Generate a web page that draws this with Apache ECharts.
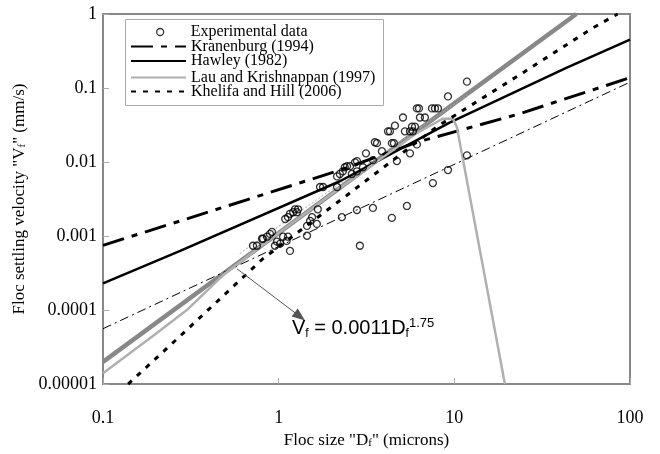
<!DOCTYPE html>
<html>
<head>
<meta charset="utf-8">
<script src="https://cdn.jsdelivr.net/npm/echarts@6/dist/echarts.min.js"></script>
<style>
  html, body { margin: 0; padding: 0; background: #fff; }
  #chart { width: 660px; height: 454px; }
</style>
</head>
<body>
<div id="chart"></div>
<script>
// tick labels
const xTicks = [0.1, 1, 10, 100];
const xTickLabels = ['0.1', '1', '10', '100'];
const yTicks = [0.00001, 0.0001, 0.001, 0.01, 0.1, 1];
const yTickLabels = ['0.00001', '0.0001', '0.001', '0.01', '0.1', '1'];

// measured floc size (microns) / settling velocity (mm/s)
const experimental = [
  [11.8, 0.122], [9.2, 0.077], [6.12, 0.053], [6.29, 0.053], [7.46, 0.053], [7.76, 0.053],
  [8.07, 0.053], [5.10, 0.040], [6.37, 0.040], [6.80, 0.040], [4.59, 0.031], [5.74, 0.030],
  [5.97, 0.030], [4.19, 0.026], [4.30, 0.026], [5.23, 0.026], [5.59, 0.026], [5.81, 0.026],
  [3.53, 0.0185], [3.63, 0.018], [4.41, 0.018], [4.53, 0.018], [6.12, 0.0173], [3.14, 0.0131],
  [3.87, 0.014], [5.59, 0.0131], [3.44, 0.0106], [2.79, 0.0103], [4.71, 0.0103], [3.02, 0.0085],
  [2.45, 0.0088], [2.55, 0.0088], [2.38, 0.0085], [2.72, 0.0099], [2.32, 0.0075], [2.23, 0.0069],
  [2.15, 0.0064], [2.61, 0.0069], [2.79, 0.0075], [1.72, 0.0046], [1.79, 0.0046], [2.15, 0.0046],
  [1.24, 0.0023], [1.29, 0.0023], [1.21, 0.0021], [1.27, 0.0021], [1.16, 0.0020], [1.09, 0.0017],
  [1.13, 0.0018], [1.51, 0.0016], [1.55, 0.0018], [1.67, 0.0023], [1.45, 0.00137], [1.65, 0.00146],
  [2.29, 0.0018], [2.79, 0.00225], [3.44, 0.0024], [5.37, 0.00255], [4.41, 0.00176], [7.55, 0.0052],
  [9.2, 0.0078], [11.8, 0.0123], [1.45, 0.00101], [0.916, 0.00114], [0.892, 0.00107], [0.858, 0.00098],
  [0.814, 0.00092], [0.804, 0.00092], [0.714, 0.00074], [0.752, 0.00074], [1.06, 0.00098], [1.13, 0.00098],
  [1.11, 0.00086], [1.02, 0.00079], [0.953, 0.00074], [0.978, 0.00084], [1.16, 0.00063], [2.90, 0.00074]
];

// model curves
const kranenburg = [[0.1, 0.00075], [0.275, 0.0016], [2.32, 0.008], [6.1, 0.0185], [23.6, 0.045], [100, 0.138]];
const hawley = [[0.1, 0.00023], [0.275, 0.00063], [2.23, 0.0055], [9.4, 0.034], [43.7, 0.188], [100, 0.45]];
const lau = [[0.1, 0.000014], [0.2, 0.000048], [0.3, 0.0001], [0.5, 0.00032], [1, 0.0011], [2, 0.0037],
  [4, 0.012], [6, 0.024], [8, 0.035], [8.6, 0.0385], [9.8, 0.0388], [10.35, 0.0294], [19.4, 0.00001]];
const khelifa = [[0.139, 0.00001], [0.3, 0.000054], [0.81, 0.00049], [2.5, 0.0037], [7.95, 0.03],
  [25, 0.165], [61.5, 0.65], [85, 1]];
const fitLine = [[0.1, 0.00002], [1, 0.0011], [10, 0.062], [49.5, 1]];
const thinDashDot = [[0.1, 0.000056], [100, 0.12]];
const thinDotted = [[0.6, 0.00058], [11.9, 0.081]];

// arrow from the fit line to its equation
const arrowFrom = [0.58, 0.00036];
const arrowTo = [1.32, 0.000082];

const legendNames = ['Experimental data', 'Kranenburg (1994)', 'Hawley (1982)',
  'Lau and Krishnappan (1997)', 'Khelifa and Hill (2006)'];
const legendTops = [24, 38.5, 53, 69.5, 83.5];

const serif = 'Liberation Serif';

function tickText(ticks, labels) {
  return function (v) {
    for (let i = 0; i < ticks.length; i++) {
      if (Math.abs(Math.log10(v) - Math.log10(ticks[i])) < 1e-6) return labels[i];
    }
    return '';
  };
}

// one legend per row so the rows sit tight like the original box
const legends = legendNames.map(function (name, i) {
  const isScatter = i === 0;
  return {
    data: [name], orient: 'vertical', padding: 0,
    left: isScatter ? 156 : 130, top: legendTops[i],
    itemWidth: isScatter ? 7 : 55, itemHeight: isScatter ? 7 : 14,
    itemStyle: isScatter
      ? { color: 'transparent', borderColor: '#000', borderWidth: 1.3 }
      : { color: 'transparent', borderColor: 'transparent', borderWidth: 0 },
    textStyle: { fontFamily: serif, fontSize: 16, color: '#000', padding: isScatter ? [0, 0, 0, 22] : 0 }
  };
});

const chart = echarts.init(document.getElementById('chart'));

const option = {
  animation: false,
  backgroundColor: '#fff',
  grid: {
    left: 103, top: 14, width: 527, height: 372,
    show: true, borderColor: '#888', borderWidth: 2, backgroundColor: 'transparent'
  },
  xAxis: {
    type: 'log', logBase: 10, min: 0.1, max: 100,
    name: 'Floc size "D{sub|f}" (microns)',
    nameLocation: 'middle', nameGap: 46,
    nameTextStyle: {
      fontFamily: serif, fontSize: 17, color: '#000',
      rich: { sub: { fontFamily: serif, fontSize: 11, lineHeight: 8, verticalAlign: 'bottom', color: '#000' } }
    },
    axisLine: { lineStyle: { color: '#888', width: 2 } },
    axisTick: { inside: true, length: 6, lineStyle: { color: '#aaa', width: 1 } },
    minorTick: { show: false },
    splitLine: { show: false },
    axisLabel: { fontFamily: serif, fontSize: 18, color: '#000', margin: 25, formatter: tickText(xTicks, xTickLabels) }
  },
  yAxis: {
    type: 'log', logBase: 10, min: 0.00001, max: 1,
    name: 'Floc settling velocity "V{sub|f}" (mm/s)',
    nameLocation: 'middle', nameGap: 72, nameRotate: 90,
    nameTextStyle: {
      fontFamily: serif, fontSize: 17, color: '#000',
      rich: { sub: { fontFamily: serif, fontSize: 11, lineHeight: 8, verticalAlign: 'bottom', color: '#000' } }
    },
    axisLine: { show: true, lineStyle: { color: '#888', width: 2 } },
    axisTick: { show: true, inside: true, length: 6, lineStyle: { color: '#aaa', width: 1 } },
    splitLine: { show: false },
    axisLabel: { fontFamily: serif, fontSize: 18, color: '#000', margin: 6, formatter: tickText(yTicks, yTickLabels) }
  },
  legend: legends,
  graphic: [
    {
      type: 'rect', left: 125, top: 19, z: 100,
      shape: { width: 258, height: 86 },
      style: { fill: 'transparent', stroke: '#aaa', lineWidth: 1 }
    },
    {
      type: 'text', left: 292, top: 317, z: 100,
      style: {
        text: '{n|V}{sub|f}{n| = 0.0011D}{sub|f}{sup|1.75}',
        rich: {
          n: { fontFamily: 'Liberation Sans', fontSize: 20, color: '#000', lineHeight: 23 },
          sub: { fontFamily: 'Liberation Sans', fontSize: 12, color: '#000', lineHeight: 8, verticalAlign: 'bottom' },
          sup: { fontFamily: 'Liberation Sans', fontSize: 13, color: '#000', lineHeight: 8, verticalAlign: 'top' }
        }
      }
    }
  ],
  series: [
    {
      name: 'fit', type: 'line', data: fitLine, symbol: 'none', z: 2,
      lineStyle: { color: '#888', width: 4.5 },
      markLine: {
        silent: true, symbol: ['none', 'triangle'], symbolSize: [10, 13],
        label: { show: false },
        lineStyle: { color: '#555', width: 1, type: 'solid' },
        data: [[{ coord: arrowFrom }, { coord: arrowTo }]]
      }
    },
    {
      name: 'thinDashDot', type: 'line', data: thinDashDot, symbol: 'none', z: 2,
      lineStyle: { color: '#000', width: 1, type: [9, 4, 2, 4] }
    },
    {
      name: 'thinDotted', type: 'line', data: thinDotted, symbol: 'none', z: 2,
      lineStyle: { color: '#aaa', width: 1, type: [2, 2] }
    },
    {
      name: 'Experimental data', type: 'scatter', data: experimental, z: 4,
      symbol: 'circle', symbolSize: 7,
      itemStyle: { color: 'rgba(255,255,255,0)', borderColor: '#000', borderWidth: 1.3 }
    },
    {
      name: 'Kranenburg (1994)', type: 'line', data: kranenburg, symbol: 'none', z: 3,
      lineStyle: { color: '#000', width: 3, type: [22, 8, 6, 8] }
    },
    {
      name: 'Hawley (1982)', type: 'line', data: hawley, symbol: 'none', z: 3,
      lineStyle: { color: '#000', width: 2.5 }
    },
    {
      name: 'Lau and Krishnappan (1997)', type: 'line', data: lau, symbol: 'none', z: 3,
      lineStyle: { color: '#b0b0b0', width: 2.5 }
    },
    {
      name: 'Khelifa and Hill (2006)', type: 'line', data: khelifa, symbol: 'none', z: 3,
      lineStyle: { color: '#000', width: 3, type: [5, 7] }
    }
  ]
};

chart.setOption(option);
</script>
</body>
</html>
